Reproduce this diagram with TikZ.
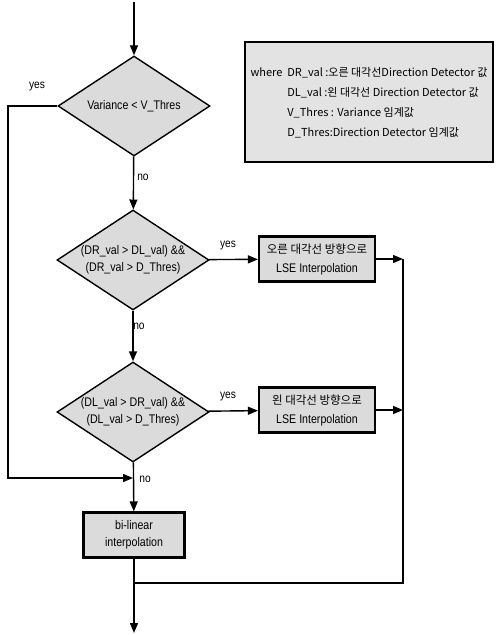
\documentclass[tikz,border=0pt]{standalone}
\usepackage{fontspec}
\setmainfont{Liberation Sans}[FakeStretch=0.85]
\newfontfamily\kr{Noto Sans CJK KR}
\usetikzlibrary{shapes.geometric, arrows.meta}

\begin{document}
\begin{tikzpicture}[x=1pt, y=-1pt, line width=1.4pt, >={Triangle[length=10pt,width=8pt]},
  decision/.style={diamond, draw, fill=gray!28, aspect=1.5, minimum width=152pt,
    minimum height=100pt, inner sep=0pt, align=center, font=\fontsize{12.5}{17}\selectfont},
  block/.style={rectangle, draw, line width=2.2pt, fill=gray!28, minimum width=116pt,
    minimum height=45pt, inner sep=1pt, align=center, font=\fontsize{12.5}{19}\selectfont},
  legend/.style={rectangle, draw, line width=1.8pt, fill=gray!22, minimum width=248pt,
    minimum height=120pt, inner sep=4pt, align=left, font=\kr\fontsize{11}{20}\selectfont},
  tag/.style={font=\fontsize{12}{13}\selectfont}]
        \useasboundingbox (0,0) rectangle (497,635);

        \node[decision] (d1) at (134,106) {Variance < V\_Thres};
        \node[decision] (d2) at (133,260) {(DR\_val > DL\_val) \&\&\\(DR\_val > D\_Thres)};
        \node[decision] (d3) at (133,412) {(DL\_val > DR\_val) \&\&\\(DL\_val > D\_Thres)};

        \node[block] (b1) at (317,259) {{\kr\fontsize{11.5}{19}\selectfont 오른 대각선 방향으로}\\LSE Interpolation};
        \node[block] (b2) at (317,410) {{\kr\fontsize{11.5}{19}\selectfont 왼 대각선 방향으로}\\LSE Interpolation};
        \node[block, minimum width=101pt, font=\fontsize{12.5}{17}\selectfont] (b3) at (134,535) {bi-linear\\interpolation};

        \node[legend] (key) at (369,102) {%
          \begin{tabular}{@{}l@{\hspace{5pt}}l@{}}
            where & DR\_val :오른 대각선Direction Detector 값\\
                  & DL\_val :왼 대각선 Direction Detector 값\\
                  & V\_Thres : Variance 임계값\\
                  & D\_Thres:Direction Detector 임계값
          \end{tabular}};

        % free ends and bends
        \coordinate (start) at (134,2);
        \coordinate (leftrail) at (8,106);
        \coordinate (yesjoin) at (133,478);
        \coordinate (r1) at (403,259);
        \coordinate (r2) at (403,410);
        \coordinate (rbottom) at (403,583);
        \coordinate (merge) at (134,583);
        \coordinate (finish) at (134,633);

        \draw[->] (start) -- (d1);
        \draw[->] (d1) -- (d2);
        \draw[->] (d2) -- (d3);
        \draw[->] (d3) -- (b3);
        \draw[->] (d1.west) -- (leftrail) |- (yesjoin);
        \draw[->] (d2) -- (b1);
        \draw[->] (d3) -- (b2);
        \draw[->] (b1) -- (r1);
        \draw[->] (b2) -- (r2);
        \draw (r1) -- (rbottom) -- (merge);
        \draw[->] (b3) -- (finish);

        \node[tag] (yes1) at (37,87) {yes};
        \node[tag] (no1) at (143,177) {no};
        \node[tag] (yes2) at (228,246) {yes};
        \node[tag] (no2) at (139,326) {no};
        \node[tag] (yes3) at (228,397) {yes};
        \node[tag] (no3) at (145,479) {no};
    \end{tikzpicture}
\end{document}
